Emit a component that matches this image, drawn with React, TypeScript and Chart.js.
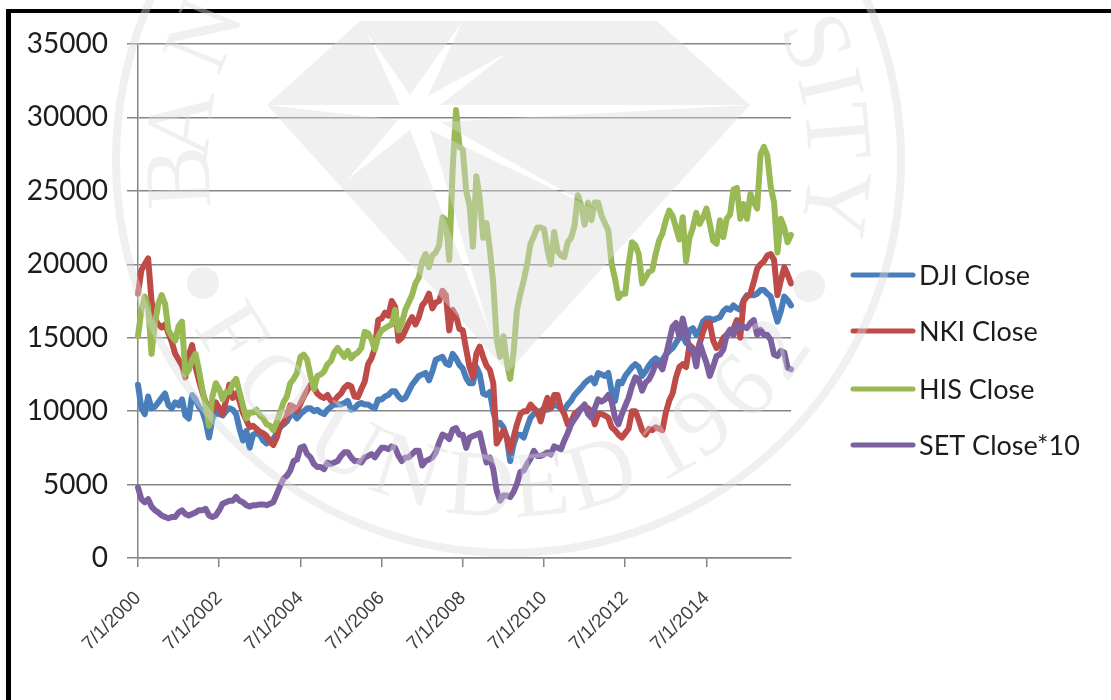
import React, { useEffect, useRef } from "react";
import { Chart, registerables } from "chart.js";

Chart.register(...registerables);

// Month-start closes, July 2000 onward.
const months: string[] = [];
for (let i = 0; i < 194; i++) {
  const m = ((6 + i) % 12) + 1;
  const y = 2000 + Math.floor((6 + i) / 12);
  months.push(`${m}/1/${y}`);
}

const seriesNames = ["DJI Close", "NKI Close", "HIS Close", "SET Close*10"];
const seriesColors = ["#4a7ebb", "#be4b48", "#98b954", "#7d60a0"];
const yTicks = { min: 0, max: 35000, step: 5000 };

const dji = [
  11800, 10200, 9800, 11000, 10200, 10300, 10600, 10900, 11200, 10400,
  10200, 10600, 10400, 10800, 9700, 9500, 11100, 10800, 10300, 10000,
  9300, 8200, 9500, 9900, 9800, 9700, 10000, 10200, 10100, 9800,
  8800, 8000, 8650, 7500, 8400, 8500, 8400, 8000, 7800, 8000,
  8100, 8500, 8900, 9100, 9300, 9700, 9800, 9500, 9800, 10000,
  10200, 10200, 10000, 10100, 9900, 9800, 10100, 10300, 10450, 10450,
  10450, 10550, 10700, 10100, 10200, 10450, 10550, 10450, 10450, 10300,
  10200, 10800, 10800, 11000, 11100, 11350, 11350, 11000, 10800, 10900,
  11350, 11800, 12100, 12400, 12500, 12600, 12100, 12700, 13500, 13600,
  13700, 13250, 13150, 13900, 13600, 13150, 12900, 12250, 11900, 11900,
  13000, 12500, 11200, 11100, 11300, 10000, 9100, 9200, 8900, 8200,
  6600, 7750, 8400, 8400, 8200, 8900, 9550, 9800, 9900, 10000,
  10200, 10100, 10200, 10450, 10350, 10200, 10100, 10450, 10700, 11100,
  11350, 11600, 11900, 12100, 12250, 11900, 12600, 12500, 12400, 12600,
  11350, 10700, 12000, 11900, 12400, 12700, 13000, 13200, 13000, 12400,
  12700, 13100, 13400, 13600, 13400, 13500, 13850, 14100, 14300, 14650,
  15000, 15100, 14650, 15500, 15650, 15200, 15500, 16100, 16300, 16300,
  16200, 16300, 16400, 16800, 17000, 16900, 17200, 17000, 16900, 17550,
  17900, 17900, 17900, 18000, 18250, 18250, 18000, 17800, 16900, 16100,
  16800, 17800, 17550, 17200,
];

const nki = [
  18000, 19600, 20000, 20400, 17500, 16300, 15900, 15700, 15900, 15300,
  14700, 13900, 13500, 13100, 12300, 13800, 14500, 13000, 12100, 11300,
  10600, 10200, 10000, 10600, 10200, 9800, 10700, 11800, 10900, 11200,
  10700, 9900, 9400, 8900, 9000, 8800, 8600, 8500, 8300, 7900,
  7700, 8200, 9000, 9200, 9700, 10400, 10300, 10000, 10500, 11000,
  11400, 11800, 11600, 11200, 11000, 10900, 11100, 10700, 10700, 11000,
  11200, 11600, 11800, 11700, 11000, 10950, 11500, 12000, 13200, 13600,
  14300, 16200, 16300, 16700, 16500, 17500, 17100, 14800, 15000, 15500,
  16000, 16400, 15900, 16400, 17200, 17500, 18000, 17000, 17400, 17500,
  18200, 17900, 15500, 16900, 16500, 15600, 15500, 14200, 13000, 12300,
  13900, 14400, 13700, 13100, 12800, 11900, 7800, 8200, 8700, 8200,
  7300, 8200, 9100, 9800, 10000, 10000, 10450, 10200, 10000, 9300,
  10200, 10900, 10200, 11100, 11100, 10200, 9800, 9100, 9300, 9800,
  10000, 10200, 10300, 10200, 10000, 9100, 9800, 9800, 9700, 9550,
  8900, 8700, 8400, 8200, 8500, 8800, 10000, 10000, 9400, 8700,
  8400, 8800, 8700, 8900, 8800, 8700, 9900, 10700, 11200, 12300,
  13000, 13200, 13000, 14500, 14300, 13700, 14600, 15400, 16000, 16000,
  14800, 14300, 14500, 15000, 15200, 15300, 15600, 16200, 15000, 17500,
  17800, 18000, 18800, 19700, 20000, 20200, 20600, 20700, 20300, 17900,
  18900, 19800, 19300, 18700,
];

const his = [
  15100, 16900, 17800, 17100, 13900, 16000, 17300, 17900, 17300, 15500,
  15100, 14800, 15800, 16100, 12500, 12800, 13500, 13900, 12800, 11500,
  10400, 9000, 11000, 11900, 11500, 10800, 11300, 11300, 11900, 12200,
  11300, 10400, 9500, 9900, 9900, 10100, 9700, 9500, 9100, 9000,
  8700, 9250, 9900, 10600, 11000, 11900, 12200, 12600, 13700, 13850,
  13500, 12400, 11500, 12400, 12500, 12700, 13200, 13400, 14000, 14300,
  14000, 13700, 14100, 13600, 13850, 14000, 14300, 15400, 15300, 14900,
  14200, 15100, 15500, 15650, 15800, 15900, 16900, 15500, 16000, 16900,
  17400, 17900, 18700, 19100, 20200, 20700, 19800, 20600, 20800, 21300,
  23200, 23000, 20300, 26500, 30500, 28000, 27800, 25000, 24000, 21200,
  26000, 24500, 21800, 22800, 21000, 18700, 14900, 13700, 15100, 13300,
  12200, 14000, 16900, 18000, 18900, 20000, 21400, 21900, 22500, 22500,
  22400, 21000, 20000, 22200, 20900, 20600, 20500, 21500, 21800, 22600,
  24700, 24000, 22700, 24200, 23000, 24200, 24200, 23300, 22800, 22300,
  20000, 19000, 17700, 18000, 18000, 20000, 21500, 21300, 20700, 18700,
  19100, 19500, 19600, 20700, 21600, 22100, 23000, 23650, 23300, 22500,
  21700, 23200, 20200, 21800, 22500, 23500, 22750, 23200, 23800, 22750,
  21600, 21400, 23000, 21850, 23100, 23400, 25100, 25200, 23100, 24100,
  23100, 24800, 24200, 23800, 27500, 28000, 27400, 25300, 24200, 20800,
  23100, 22500, 21500, 22000,
];

const setTimesTen = [
  4800, 4000, 3800, 4000, 3500, 3250, 3100, 2900, 2800, 2700,
  2800, 2800, 3100, 3250, 3000, 2900, 3000, 3100, 3250, 3250,
  3350, 2900, 2800, 2900, 3250, 3700, 3800, 3900, 3900, 4150,
  3900, 3800, 3600, 3500, 3600, 3600, 3650, 3650, 3600, 3700,
  3800, 4350, 4900, 5400, 5600, 5950, 6600, 6700, 7500, 7600,
  7070, 6850, 6400, 6200, 6200, 6050, 6500, 6400, 6500, 6600,
  6950, 7200, 7200, 6850, 6600, 6600, 6500, 6850, 6950, 7070,
  6850, 7200, 7500, 7500, 7400, 7600, 7500, 6950, 6600, 6850,
  6850, 7070, 7300, 7300, 6300, 6600, 6700, 6850, 7200, 7850,
  8400, 8300, 8100, 8750, 8850, 8400, 8400, 7500, 8200, 8300,
  8400, 8500, 7500, 6500, 6850, 6050, 4600, 3900, 4250, 4250,
  4150, 4500, 5050, 5850, 5950, 6400, 6750, 7300, 6950, 6950,
  7050, 7200, 7050, 7600, 7500, 7400, 8000, 8500, 9100, 9450,
  9800, 10200, 10450, 9800, 9550, 10200, 10800, 10650, 10800, 11100,
  10650, 9550, 9100, 9800, 10350, 10900, 11700, 12300, 12150, 11400,
  11950, 12150, 12600, 13200, 13200, 12850, 13750, 14750, 15750, 16000,
  15100, 16300, 15300, 14200, 14200, 13050, 14650, 13950, 13300, 12400,
  13050, 13750, 13850, 14200, 15200, 15550, 15200, 15900, 15650, 15750,
  15650, 16000, 16200, 15200, 15550, 15200, 15200, 14850, 13850, 13750,
  14100, 14000, 12950, 12850,
];

const seriesValues = [dji, nki, his, setTimesTen];

// Arc lettering of the university seal: [letter, degrees clockwise from top].
const sealTop: [string, number][] = [
  ["B", -93], ["A", -83.5], ["N", -67.5], ["G", -54], ["S", 69], ["I", 77], ["T", 85], ["Y", 97.4],
];
// Lower arc: [letter, degrees from bottom, positive to the right].
const sealBottom: [string, number][] = [
  ["F", -58], ["O", -45.6], ["U", -30], ["N", -18], ["D", -5], ["E", 5.6], ["D", 16.5],
  ["1", 29], ["9", 36.5], ["6", 46], ["2", 55],
];
const diamond: [number, number][] = [[360, 21], [657, 21], [750, 105], [508, 372], [267, 105]];
const star: [number, number][] = [
  [267, 105], [400, 105], [367, 33], [410, 95], [462, 22], [428, 96], [507, 53], [440, 105],
  [750, 105], [440, 122], [603, 213], [430, 130], [490, 333], [410, 130], [347, 180], [398, 120],
];

const frameAndSeal = {
  id: "frameAndSeal",
  beforeDraw(chart: any) {
    const ctx = chart.ctx as CanvasRenderingContext2D;
    ctx.save();
    ctx.fillStyle = "#000";
    ctx.fillRect(6, 9, 5, 691);
    ctx.fillRect(6, 9, 1105, 4);
    ctx.restore();
  },
  afterDraw(chart: any) {
    const ctx = chart.ctx as CanvasRenderingContext2D;
    ctx.save();

    // Legend block to the right of the plot.
    const legendY = [275, 331, 389, 445];
    chart.data.datasets.forEach((ds: any, i: number) => {
      ctx.strokeStyle = ds.borderColor;
      ctx.lineWidth = 5;
      ctx.lineCap = "round";
      ctx.beginPath();
      ctx.moveTo(853, legendY[i]);
      ctx.lineTo(913, legendY[i]);
      ctx.stroke();
      ctx.fillStyle = "#1c1c1c";
      ctx.font = "27px Lato";
      ctx.textBaseline = "middle";
      ctx.textAlign = "left";
      ctx.fillText(ds.label, 919, legendY[i] + 1);
    });

    // Translucent university seal laid over everything.
    const cx = 508.5;
    const cy = 160.5;
    const tint = "rgba(219,219,219,0.42)";
    ctx.fillStyle = tint;
    ctx.strokeStyle = tint;

    ctx.lineWidth = 8;
    ctx.beginPath();
    ctx.arc(cx, cy, 392.5, 0, Math.PI * 2);
    ctx.stroke();

    const gem = new Path2D();
    diamond.forEach(([x, y], i) => (i ? gem.lineTo(x, y) : gem.moveTo(x, y)));
    gem.closePath();
    star.forEach(([x, y], i) => (i ? gem.lineTo(x, y) : gem.moveTo(x, y)));
    gem.closePath();
    ctx.fill(gem, "evenodd");

    [[203, 283], [809, 286]].forEach(([x, y]) => {
      ctx.beginPath();
      ctx.arc(x, y, 16, 0, Math.PI * 2);
      ctx.fill();
    });

    ctx.font = "94px 'Liberation Serif'";
    ctx.textAlign = "center";
    ctx.textBaseline = "alphabetic";
    sealTop.forEach(([ch, deg]) => {
      ctx.save();
      ctx.translate(cx, cy);
      ctx.rotate((deg * Math.PI) / 180);
      ctx.fillText(ch, 0, -300);
      ctx.restore();
    });
    sealBottom.forEach(([ch, deg]) => {
      ctx.save();
      ctx.translate(cx, cy);
      ctx.rotate((-deg * Math.PI) / 180);
      ctx.fillText(ch, 0, 356);
      ctx.restore();
    });

    ctx.restore();
  },
};

export default function App() {
  const canvasRef = useRef<HTMLCanvasElement | null>(null);

  useEffect(() => {
    if (!canvasRef.current) return;
    const chart = new Chart(canvasRef.current, {
      type: "line",
      data: {
        labels: months,
        datasets: seriesNames.map((label, i) => ({
          label,
          data: seriesValues[i],
          borderColor: seriesColors[i],
          backgroundColor: seriesColors[i],
          borderWidth: 6,
          pointRadius: 0,
          tension: 0,
          borderJoinStyle: "round" as const,
          borderCapStyle: "round" as const,
          clip: false as any,
          // Later series paint over earlier ones.
          order: seriesNames.length - i,
        })),
      },
      options: {
        responsive: false,
        animation: false,
        layout: { padding: { left: 0, top: 44, right: 320, bottom: 0 } },
        plugins: { legend: { display: false }, tooltip: { enabled: false }, title: { display: false } },
        scales: {
          x: {
            type: "category",
            offset: false,
            afterBuildTicks: (axis: any) => {
              axis.ticks = axis.ticks.filter((t: any) => t.value % 24 === 0 && t.value < 192);
            },
            afterFit: (axis: any) => {
              axis.height = 142;
            },
            grid: { drawOnChartArea: false, drawTicks: true, tickLength: 9, color: "#868686", lineWidth: 1.5 },
            border: { color: "#868686", width: 1.5 },
            ticks: {
              autoSkip: false,
              maxRotation: 45,
              minRotation: 45,
              padding: 20,
              color: "#404040",
              font: { family: "'Liberation Sans'", size: 19 },
            },
          },
          y: {
            min: yTicks.min,
            max: yTicks.max,
            afterFit: (axis: any) => {
              axis.width = 138;
            },
            grid: { color: "#868686", lineWidth: 1.5, tickLength: 11 },
            border: { color: "#868686", width: 1.5 },
            ticks: {
              stepSize: yTicks.step,
              padding: 19,
              color: "#1c1c1c",
              font: { family: "Lato", size: 28 },
              callback: (value: any) => String(value),
            },
          },
        },
      },
      plugins: [frameAndSeal],
    });
    return () => chart.destroy();
  }, []);

  return (
    <div style={{ position: "absolute", left: 0, top: 0, width: 1111, height: 700, background: "#fff" }}>
      <canvas ref={canvasRef} width={1111} height={700} style={{ display: "block" }} />
    </div>
  );
}
